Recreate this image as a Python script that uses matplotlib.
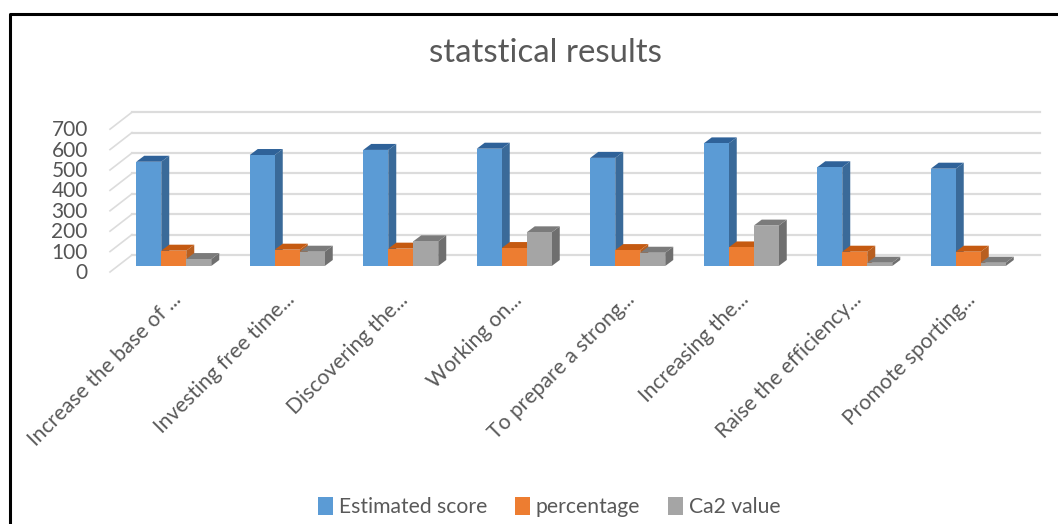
import matplotlib
matplotlib.use('Agg')
import matplotlib.pyplot as plt
from matplotlib.patches import Polygon
from matplotlib.transforms import ScaledTranslation

plt.rcParams['font.family'] = ['Lato', 'DejaVu Sans']

W, H = 1058, 524

categories = ['Increase the base of ...', 'Investing free time...', 'Discovering the...',
              'Working on...', 'To prepare a strong...', 'Increasing the...',
              'Raise the efficiency...', 'Promote sporting...']
estimated_score = [511, 544, 569, 575, 530, 601, 484, 477]
percentage = [75, 80, 85, 88, 78, 91, 70, 70]
ca2_value = [34, 70, 121, 165, 65, 198, 16, 16]
y_ticks = [0, 100, 200, 300, 400, 500, 600, 700]

series = [('Estimated score', estimated_score, '#5b9bd5', '#3a6a99', '#2f6299'),
          ('percentage', percentage, '#ed7d31', '#b85f20', '#c55a11'),
          ('Ca2 value', ca2_value, '#a5a5a5', '#6f6f6f', '#7b7b7b')]

# pixels per data unit on the chart
PX_X = 113.5
PX_Y = 0.204


def px_x(p):
    return p / PX_X


def px_y(p):
    return p / PX_Y


fig = plt.figure(figsize=(W / 100, H / 100), dpi=100)
ax = fig.add_axes([117 / W, (H - 266) / H, 908 / W, 142.8 / H])
ax.set_xlim(-0.5, 7.5)
ax.set_ylim(0, 700)
ax.patch.set_visible(False)
for s in ax.spines.values():
    s.set_visible(False)

# walls: gridlines on the back plane and the slanted floor/side lines
for v in y_ticks:
    ax.plot([-0.5 + px_x(15), 7.5 + px_x(15)], [v + px_y(11), v + px_y(11)],
            color='#dcdcdc', lw=1.6, clip_on=False, zorder=1)
    ax.plot([-0.5 - px_x(7), -0.5 + px_x(15)], [v - px_y(6), v + px_y(11)],
            color='#dcdcdc', lw=1.2, clip_on=False, zorder=1)

width = 25 / PX_X
dx = px_x(8)
dy = px_y(6)
for k, (name, vals, col, side, top) in enumerate(series):
    offs = [i + (k - 1) * width for i in range(len(vals))]
    z = 3 + k
    ax.bar(offs, vals, width=width, color=col, label=name, zorder=z + 0.5, clip_on=False)
    for x, v in zip(offs, vals):
        r = x + width / 2
        l = x - width / 2
        ax.add_patch(Polygon([(r, 0), (r + dx, dy), (r + dx, v + dy), (r, v)],
                             fc=side, ec='none', zorder=z, clip_on=False))
        ax.add_patch(Polygon([(l, v), (l + dx, v + dy), (r + dx, v + dy), (r, v)],
                             fc=top, ec='none', zorder=z, clip_on=False))

ax.set_yticks(y_ticks)
ax.tick_params(axis='y', length=0, pad=21, labelsize=15, labelcolor='#555555')
for lab in ax.get_yticklabels():
    lab.set_transform(lab.get_transform() + ScaledTranslation(0, -5 / 100, fig.dpi_scale_trans))

ax.set_xticks(range(len(categories)))
ax.set_xticklabels(categories, rotation=45, ha='right', va='top', rotation_mode='anchor',
                   fontsize=15.2, color='#595959')
ax.tick_params(axis='x', length=0, pad=17)
for lab in ax.get_xticklabels():
    lab.set_transform(lab.get_transform() + ScaledTranslation(-3 / 100, 0, fig.dpi_scale_trans))

fig.text(545 / W, 1 - 53 / H, 'statstical results', ha='center', va='center',
         fontsize=23.8, color='#595959')

fig.legend(loc='center', bbox_to_anchor=(549 / W, 1 - 507 / H), ncol=3, frameon=False,
           fontsize=15.2, labelcolor='#595959', handlelength=0.75, handleheight=0.9,
           handletextpad=0.25, columnspacing=1.3)

# outer frame of the picture, only top and left edges show
frame_x = [10 / W, 10 / W, 1]
frame_y = [0, 1 - 13.5 / H, 1 - 13.5 / H]
fig.add_artist(plt.Line2D(frame_x, frame_y, color='black', lw=2.2))

fig.savefig('out.png', dpi=100)
